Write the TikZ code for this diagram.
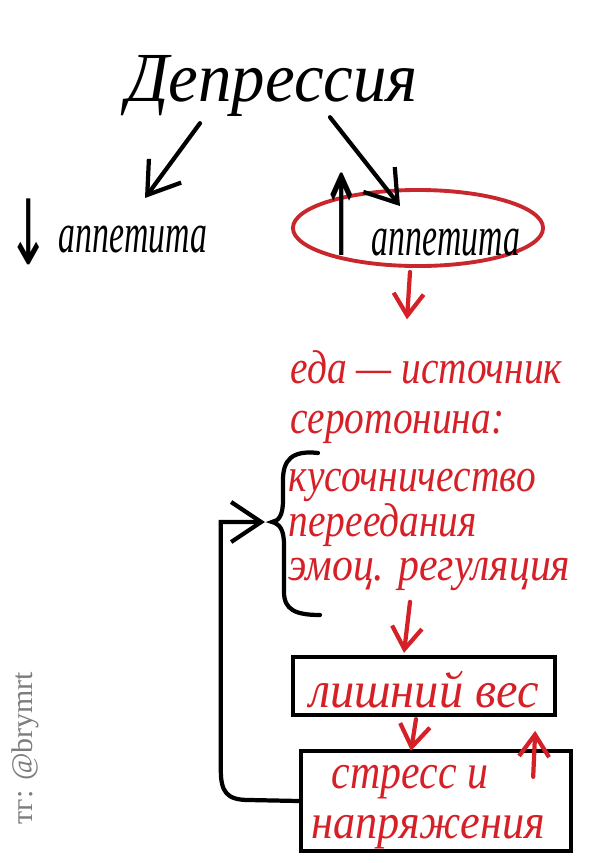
\documentclass[tikz,border=0pt]{standalone}
\usepackage{fontspec}
\setmainfont{Liberation Serif}
\newfontfamily\arrowfont{DejaVu Sans}
\usetikzlibrary{arrows.meta,shapes.geometric,calc}
\definecolor{hred}{RGB}{214,32,39}
\definecolor{ered}{RGB}{200,40,45}
\definecolor{credit}{RGB}{125,125,125}
\newcommand{\harr}[3]{\raisebox{#1}{\arrowfont\upshape\scalebox{0.9}[#2]{#3}}}
\newcommand{\hw}[2]{\scalebox{#1}[1]{#2}}
\begin{document}
\begin{tikzpicture}[x=0.01cm,y=-0.01cm,
  hand/.style={inner sep=0pt},
  redtxt/.style={hand,text=hred,font=\itshape\fontsize{13.5}{15}\selectfont},
  blk/.style={line width=1.2pt,black,line cap=round},
  redl/.style={line width=1.2pt,hred,line cap=round},
  tipA/.style={-{Straight Barb[length=3mm,width=4mm]}},
  tipB/.style={-{Straight Barb[length=2.2mm,width=3mm]}},
  boxed/.style={draw=black,line width=1.2pt,inner sep=0pt}]
\useasboundingbox[fill=white] (0,0) rectangle (600,863);

% title
\node[hand,font=\itshape\fontsize{20}{22}\selectfont] (dep) at (272,86) {\hw{0.95}{Депрессия}};

% appetite nodes
\node[hand,anchor=base,font=\itshape\fontsize{16}{17}\selectfont] (down) at (107,252) {\harr{-1.2mm}{1.6}{↓}\,\hw{0.6}{аппетита}};
\node[draw=ered,line width=1.1pt,ellipse,minimum width=2.5cm,minimum height=0.76cm,inner sep=0pt] (ell) at (418,228) {};
\node[hand,anchor=base,font=\itshape\fontsize{16}{17}\selectfont] (up) at (420,255) {\harr{0mm}{2.0}{↑}\,\hw{0.6}{аппетита}};

\draw[blk,tipA] ($(dep.south)+(-72,6)$) -- ($(down.base)+(38,-54)$);
\draw[blk,tipA] ($(dep.south)+(58,0)$) -- ($(ell.north)+(-18,18)$);

% red text block
\node[redtxt,anchor=base west] (l1) at (290,383) {\hw{0.83}{еда — источник}};
\node[redtxt,anchor=base west] (l2) at (290,433) {\hw{0.83}{серотонина:}};
\node[redtxt,anchor=base west] (l3) at (288,491) {\hw{0.83}{кусочничество}};
\node[redtxt,anchor=base west] (l4) at (288,536) {\hw{0.83}{переедания}};
\node[redtxt,anchor=base west] (l5) at (288,580) {\hw{0.88}{эмоц. регуляция}};

\draw[redl,tipB] ($(ell.south)+(-8,4)$) -- ($(l1.north west)+(117,-30)$);

% brace
\coordinate (btip) at (272,522);
\draw[blk] (318,453) .. controls (292,450) and (283,460) .. (283,480) -- (283,500)
  .. controls (283,515) and (279,521) .. (btip)
  .. controls (280,524) and (284,530) .. (284,545) -- (284,592)
  .. controls (284,610) and (296,615) .. (320,615);

% boxes
\node[boxed,minimum width=2.62cm,minimum height=0.58cm] (box1) at (424,686) {};
\node[redtxt,font=\itshape\fontsize{14.5}{16}\selectfont] (w1) at (424,690) {\hw{0.95}{лишний вес}};
\node[boxed,minimum width=2.7cm,minimum height=1.0cm] (box2) at (436,801) {};
\node[redtxt,font=\itshape\fontsize{14}{16}\selectfont] (s1) at (410,782) {\hw{0.85}{стресс и}};
\node[redtxt,font=\itshape\fontsize{14}{16}\selectfont] (s2) at (428,832) {\hw{0.9}{напряжения}};

\draw[redl,tipB] ($(box1.north)+(-14,-53)$) -- ($(box1.north)+(-20,-2)$);
\draw[redl,tipB] ($(box1.south)+(-8,2)$) -- ($(box2.north)+(-25,2)$);
\draw[redl,tipB] ($(box2.north east)+(-40,28)$) -- ($(box2.north east)+(-38,-18)$);

% feedback loop
\draw[blk,tipA,shorten >=2pt] (box2.west) -- ++(-50,-1) .. controls +(-22,0) and +(0,22) .. ++(-28,-30) |- (btip);

% credit
\node[rotate=90,text=credit,font=\fontsize{8.5}{10}\selectfont,inner sep=0pt] (cred) at (25,748) {тг: @brymrt};
\end{tikzpicture}
\end{document}
